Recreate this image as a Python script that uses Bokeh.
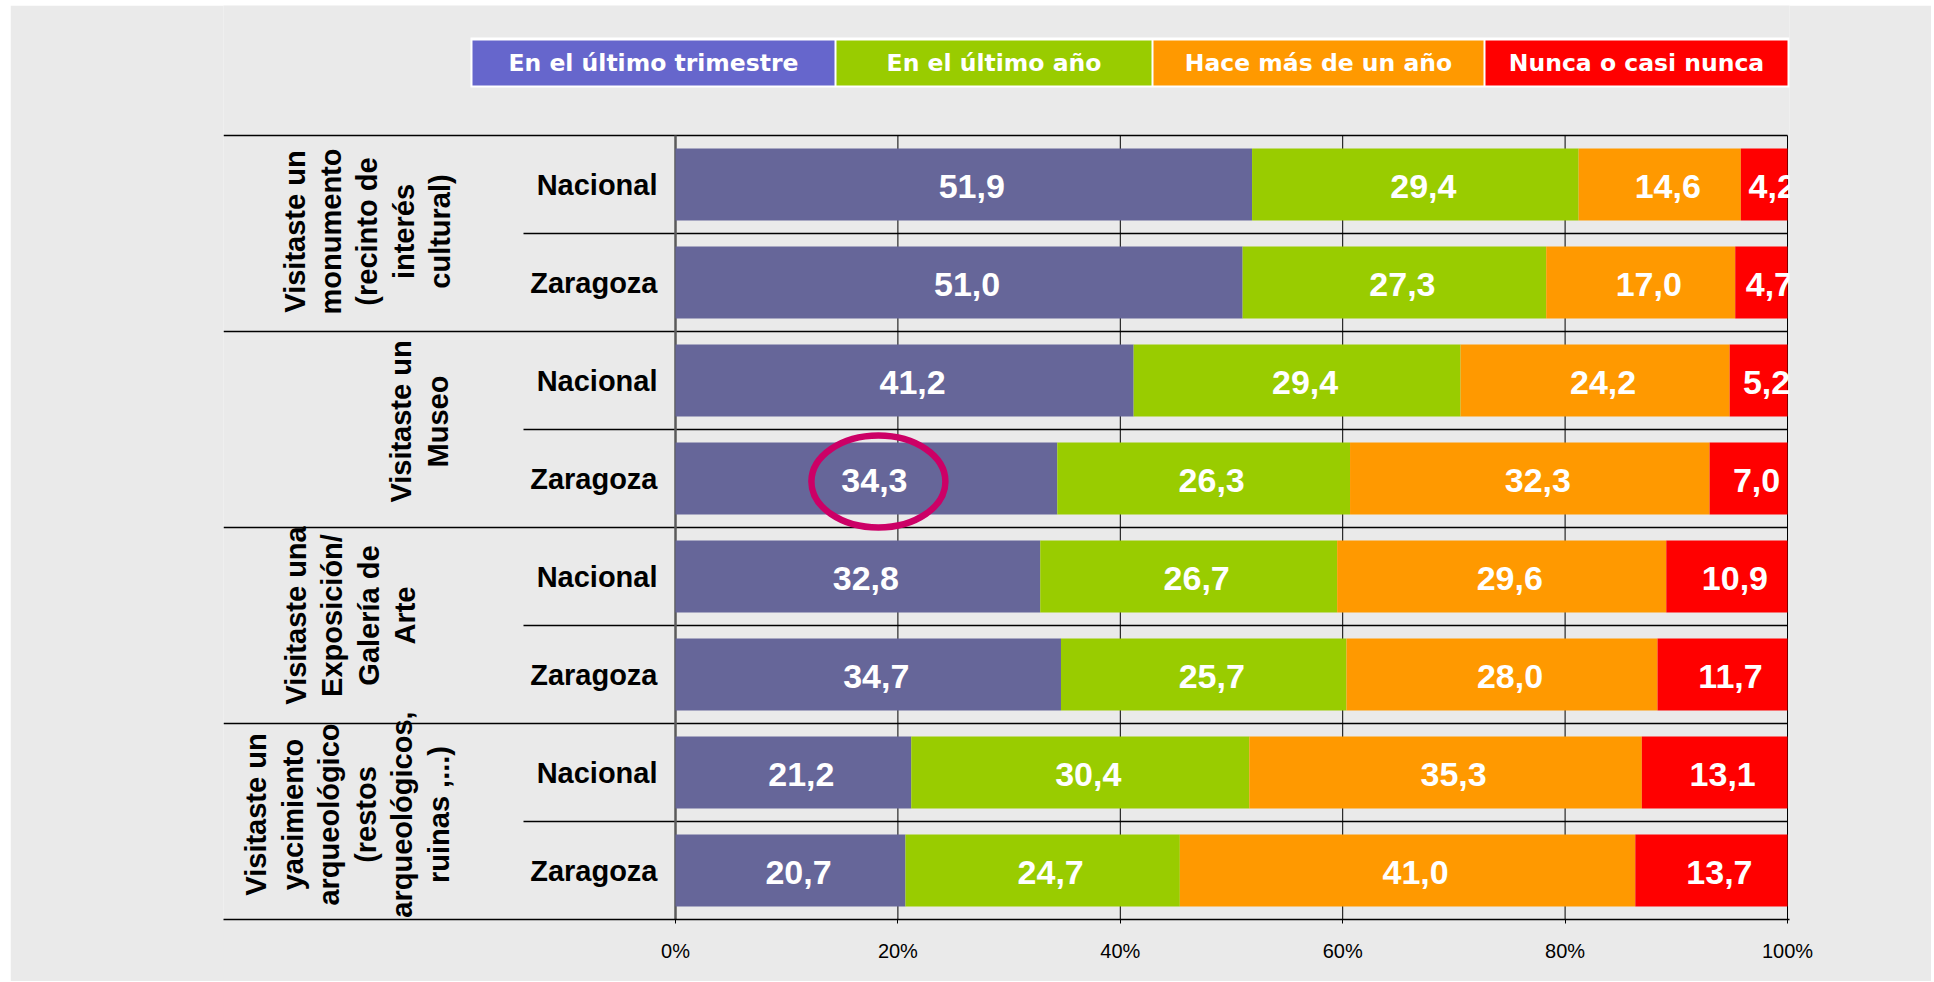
import math
from bokeh.plotting import figure
from bokeh.models import Range1d, FixedTicker, PrintfTickFormatter, ColumnDataSource
from bokeh.core.properties import value
from bokeh.embed import file_html
from bokeh.resources import INLINE

# ---------------- data ----------------
groups = [
    "Visitaste un\nmonumento\n(recinto de\ninterés\ncultural)",
    "Visitaste un\nMuseo",
    "Visitaste una\nExposición/\nGalería de\nArte",
    "Visitaste un\nyacimiento\narqueológico\n(restos\narqueológicos,\nruinas ,...)",
]
areas = ["Nacional", "Zaragoza"]
series = ["En el último trimestre", "En el último año", "Hace más de un año", "Nunca o casi nunca"]
# rows, top to bottom: (group, area) pairs
ultimo_trimestre = [51.9, 51.0, 41.2, 34.3, 32.8, 34.7, 21.2, 20.7]
ultimo_anio = [29.4, 27.3, 29.4, 26.3, 26.7, 25.7, 30.4, 24.7]
mas_de_un_anio = [14.6, 17.0, 24.2, 32.3, 29.6, 28.0, 35.3, 41.0]
nunca = [4.2, 4.7, 5.2, 7.0, 10.9, 11.7, 13.1, 13.7]
x_ticks = [0, 20, 40, 60, 80, 100]
highlight = (1, "Zaragoza", 0)  # group index, area, series index

# ---------------- styles ----------------
BG = "#EAEAEA"
bar_colors = ["#666699", "#99CC00", "#FF9900", "#FF0000"]
legend_colors = ["#6666CC", "#99CC00", "#FF9900", "#FF0000"]
ARIAL = value("Liberation Sans")
VERDANA = value("DejaVu Sans")

# ---------------- layout (page pixels) ----------------
OFF_X, OFF_Y = 10, 5          # where the grey picture starts on the page
W, H = 1921, 976
FRAME_L, FRAME_R, FRAME_T, FRAME_B = 223, 1789, 5, 919
X0_PX, X100_PX = 675, 1787
ROW_PX = 98
PXU = (X100_PX - X0_PX) / 100.0


def px2x(px):
    return (px - X0_PX) / PXU


def py2y(py):
    return (FRAME_B - py) / ROW_PX


n_rows = len(groups) * len(areas)
row_y = [n_rows - i - 0.5 for i in range(n_rows)]
BAR_H = 72 / ROW_PX

p = figure(
    width=W, height=H, output_backend="svg", toolbar_location=None,
    x_range=Range1d(px2x(FRAME_L), px2x(FRAME_R)),
    y_range=Range1d(0, py2y(FRAME_T)),
    y_axis_location=None,
    min_border_left=FRAME_L - OFF_X, min_border_right=W - (FRAME_R - OFF_X),
    min_border_top=FRAME_T - OFF_Y, min_border_bottom=H - (FRAME_B - OFF_Y),
)
p.margin = (OFF_Y, 0, 0, OFF_X)
p.background_fill_color = BG
p.border_fill_color = BG
p.outline_line_color = None
p.xgrid.visible = False
p.ygrid.visible = False

# vertical gridlines
gx = [t for t in x_ticks if t > 0]
p.segment(x0=gx, y0=[0] * len(gx), x1=gx, y1=[n_rows] * len(gx), line_color="black", line_width=1)

# horizontal separators: group boundaries (full width) and row boundaries (from labels)
sx0, sy, sx1 = [], [], []
for k in range(n_rows):
    yb = n_rows - k
    if k % len(areas) == 0:
        sx0.append(px2x(FRAME_L))
    else:
        sx0.append(px2x(523))
    sy.append(yb)
    sx1.append(100)
p.segment(x0=sx0, y0=sy, x1=sx1, y1=sy, line_color="black", line_width=1.5)

# value axis line at 0
p.segment(x0=[0], y0=[0], x1=[0], y1=[n_rows], line_color="#5A5A5A", line_width=2.5)

# stacked bars
values = [ultimo_trimestre, ultimo_anio, mas_de_un_anio, nunca]
totals = [sum(v[i] for v in values) for i in range(n_rows)]
left = [0.0] * n_rows
mids_by_series = []
for s, vals in enumerate(values):
    share = [vals[i] / totals[i] * 100 for i in range(n_rows)]
    right = [left[i] + share[i] for i in range(n_rows)]
    mid = [(left[i] + right[i]) / 2 for i in range(n_rows)]
    mids_by_series.append(mid)
    src = ColumnDataSource(dict(
        y=row_y, left=left, right=right, mid=mid,
        label=[f"{v:.1f}".replace(".", ",") for v in vals],
    ))
    p.hbar(y="y", left="left", right="right", height=BAR_H, source=src,
           fill_color=bar_colors[s], line_color=None)
    p.text(x="mid", y="y", text="label", source=src, x_offset=8, y_offset=2,
           text_color="white", text_font=ARIAL, text_font_style="bold",
           text_font_size="34px", text_align="center", text_baseline="middle")
    left = right

# area labels
area_labels = [areas[i % len(areas)] for i in range(n_rows)]
p.text(x=[px2x(657)] * n_rows, y=row_y, text=area_labels,
       text_color="black", text_font=ARIAL, text_font_style="bold",
       text_font_size="29px", text_align="right", text_baseline="middle")

# group labels (rotated)
group_label_px = [367, 419, 350, 347]
group_label_py = [231, 421, 615, 814]
p.text(x=[px2x(v) for v in group_label_px], y=[py2y(v) for v in group_label_py], text=groups,
       angle=math.pi / 2, text_color="black", text_font=ARIAL, text_font_style="bold",
       text_font_size="29px", text_align="center", text_baseline="middle",
       text_line_height=1.14)

# highlight ellipse
g, a, s = highlight
ri = g * len(areas) + areas.index(a)
p.ellipse(x=[mids_by_series[s][ri] + 12 / PXU], y=[row_y[ri] - 3 / ROW_PX],
          width=134, height=92, width_units="screen", height_units="screen",
          fill_color=None, line_color="#CC0066", line_width=6.5)

# legend (colored blocks with text inside)
leg_edges = [472, 834, 836, 1151, 1153, 1483, 1485, 1787]
p.quad(left=[px2x(470)], right=[px2x(1789)], top=[py2y(37)], bottom=[py2y(87)],
       fill_color="white", line_color=None)
lx0 = [px2x(leg_edges[2 * i]) for i in range(4)]
lx1 = [px2x(leg_edges[2 * i + 1]) for i in range(4)]
p.quad(left=lx0, right=lx1, top=[py2y(40)] * 4, bottom=[py2y(85)] * 4,
       fill_color=legend_colors, line_color=None)
p.text(x=[(lx0[i] + lx1[i]) / 2 for i in range(4)], y=[py2y(62.5)] * 4, text=series,
       text_color="white", text_font=VERDANA, text_font_style="bold",
       text_font_size="23.5px", text_align="center", text_baseline="middle")

# x axis
ax = p.xaxis[0]
ax.ticker = FixedTicker(ticks=x_ticks)
ax.formatter = PrintfTickFormatter(format="%d%%")
ax.axis_line_color = "black"
ax.axis_line_width = 1.5
ax.major_tick_line_color = "black"
ax.major_tick_out = 4
ax.major_tick_in = 0
ax.minor_tick_line_color = None
ax.major_label_text_font = "Liberation Sans"
ax.major_label_text_font_size = "20px"
ax.major_label_text_color = "black"
ax.major_label_standoff = 16

open("out.html", "w").write(file_html(p, INLINE))
